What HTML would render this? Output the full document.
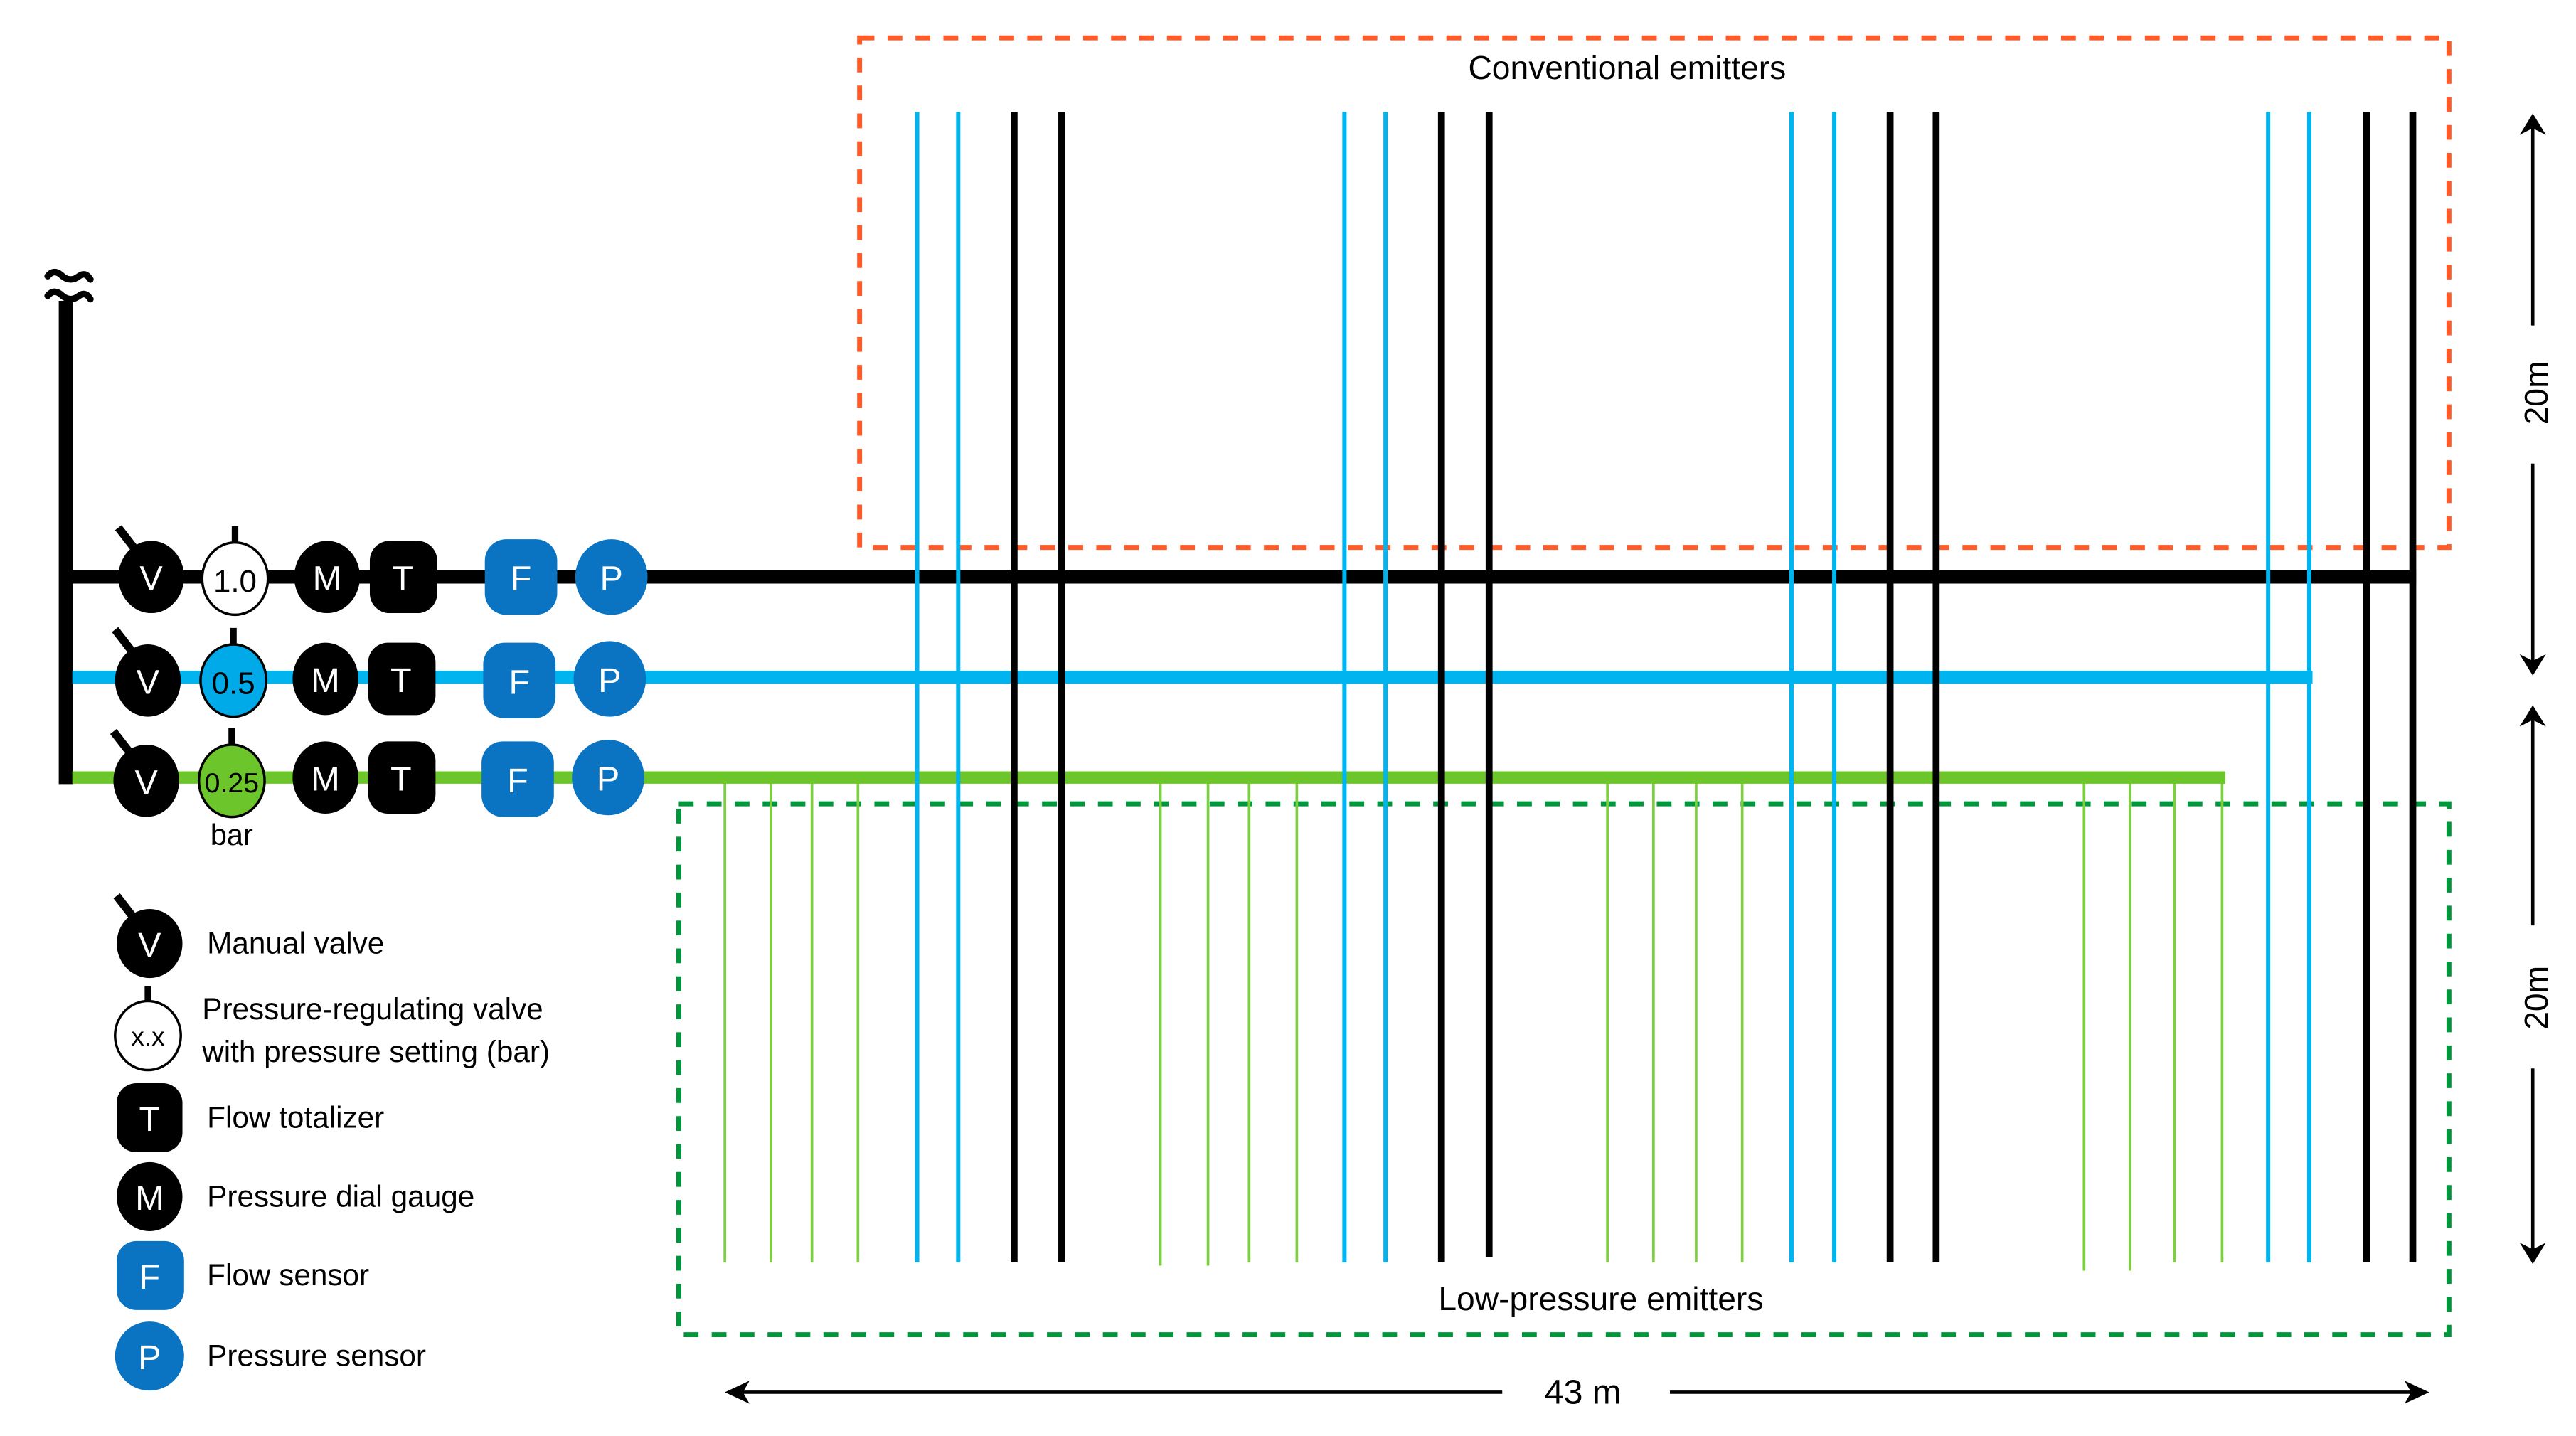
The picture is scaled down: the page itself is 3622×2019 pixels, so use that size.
<!DOCTYPE html>
<html><head><meta charset="utf-8"><style>
html,body{margin:0;padding:0;background:#fff;}
svg{display:block;}
text{font-family:"Liberation Sans",sans-serif;}
</style></head><body>
<svg width="3622" height="2019" viewBox="0 0 1567.3 873.6" xmlns="http://www.w3.org/2000/svg">
<rect x="0" y="0" width="1567.3" height="873.6" fill="#fff"/>
<!-- boxes -->
<rect x="523" y="23" width="967" height="310" fill="none" stroke="#ff5a28" stroke-width="3" stroke-dasharray="9,8"/>
<rect x="413" y="489" width="1077" height="323" fill="none" stroke="#00963c" stroke-width="3" stroke-dasharray="9,8"/>
<text x="990" y="48" font-size="20" text-anchor="middle" fill="#000">Conventional emitters</text>
<text x="974" y="797" font-size="20" text-anchor="middle" fill="#000">Low-pressure emitters</text>

<!-- green emitters -->
<g stroke="#7ccf3e" stroke-width="1.6">
<line x1="441" y1="476" x2="441" y2="768"/><line x1="469" y1="476" x2="469" y2="768"/><line x1="494" y1="476" x2="494" y2="768"/><line x1="522" y1="476" x2="522" y2="768"/>
<line x1="706" y1="476" x2="706" y2="770"/><line x1="735" y1="476" x2="735" y2="770"/><line x1="760" y1="476" x2="760" y2="768"/><line x1="789" y1="476" x2="789" y2="768"/>
<line x1="978" y1="476" x2="978" y2="768"/><line x1="1006" y1="476" x2="1006" y2="768"/><line x1="1032" y1="476" x2="1032" y2="768"/><line x1="1060" y1="476" x2="1060" y2="768"/>
<line x1="1268" y1="476" x2="1268" y2="773"/><line x1="1296" y1="476" x2="1296" y2="773"/><line x1="1323" y1="476" x2="1323" y2="768"/><line x1="1352" y1="476" x2="1352" y2="768"/>
</g>

<!-- trunk and laterals -->
<line x1="40" y1="183" x2="40" y2="477" stroke="#000" stroke-width="8.5"/>
<path d="M29 168 Q33 163 38 168 Q43 172 48 168 Q52 165 55 170" fill="none" stroke="#000" stroke-width="4" stroke-linecap="round"/>
<path d="M29 180 Q33 175 38 180 Q43 184 48 180 Q52 177 55 182" fill="none" stroke="#000" stroke-width="4" stroke-linecap="round"/>
<line x1="40" y1="351" x2="1470" y2="351" stroke="#000" stroke-width="8"/>
<line x1="44" y1="412" x2="1407" y2="412" stroke="#00b4f0" stroke-width="8"/>
<line x1="44" y1="473" x2="1354" y2="473" stroke="#6cc52b" stroke-width="7.5"/>

<!-- conventional emitters -->
<g stroke="#00b4f0" stroke-width="2.6">
<line x1="558" y1="68" x2="558" y2="768"/><line x1="583" y1="68" x2="583" y2="768"/>
<line x1="818" y1="68" x2="818" y2="768"/><line x1="843" y1="68" x2="843" y2="768"/>
<line x1="1090" y1="68" x2="1090" y2="768"/><line x1="1116" y1="68" x2="1116" y2="768"/>
<line x1="1380" y1="68" x2="1380" y2="768"/><line x1="1405" y1="68" x2="1405" y2="768"/>
</g>
<g stroke="#000" stroke-width="4.2">
<line x1="617" y1="68" x2="617" y2="768"/><line x1="646" y1="68" x2="646" y2="768"/>
<line x1="877" y1="68" x2="877" y2="768"/><line x1="906" y1="68" x2="906" y2="765"/>
<line x1="1150" y1="68" x2="1150" y2="768"/><line x1="1178" y1="68" x2="1178" y2="768"/>
<line x1="1440" y1="68" x2="1440" y2="768"/><line x1="1468" y1="68" x2="1468" y2="768"/>
</g>

<!-- rows of components -->
<g font-size="21" text-anchor="middle">
<!-- row 1 -->
<line x1="72" y1="321" x2="86" y2="339" stroke="#000" stroke-width="5"/>
<ellipse cx="92" cy="351" rx="20" ry="22" fill="#000"/><text x="92" y="359" fill="#fff">V</text>
<line x1="143" y1="320" x2="143" y2="332" stroke="#000" stroke-width="4"/>
<ellipse cx="143" cy="352" rx="20" ry="22" fill="#fff" stroke="#000" stroke-width="1.5"/><text x="143" y="360" fill="#000" font-size="19">1.0</text>
<ellipse cx="199" cy="351" rx="20" ry="22" fill="#000"/><text x="199" y="359" fill="#fff">M</text>
<rect x="225" y="329" width="41" height="44" rx="12" fill="#000"/><text x="245" y="359" fill="#fff">T</text>
<rect x="295" y="328" width="44" height="46" rx="13" fill="#0a74c2"/><text x="317" y="359" fill="#fff">F</text>
<ellipse cx="372" cy="351" rx="22" ry="23" fill="#0a74c2"/><text x="372" y="359" fill="#fff">P</text>
<!-- row 2 -->
<line x1="70" y1="383" x2="84" y2="401" stroke="#000" stroke-width="5"/>
<ellipse cx="90" cy="414" rx="20" ry="22" fill="#000"/><text x="90" y="422" fill="#fff">V</text>
<line x1="142" y1="382" x2="142" y2="394" stroke="#000" stroke-width="4"/>
<ellipse cx="142" cy="414" rx="20" ry="22" fill="#00a9e8" stroke="#000" stroke-width="1.5"/><text x="142" y="422" fill="#000" font-size="19">0.5</text>
<ellipse cx="198" cy="413" rx="20" ry="22" fill="#000"/><text x="198" y="421" fill="#fff">M</text>
<rect x="224" y="391" width="41" height="44" rx="12" fill="#000"/><text x="244" y="421" fill="#fff">T</text>
<rect x="294" y="391" width="44" height="46" rx="13" fill="#0a74c2"/><text x="316" y="422" fill="#fff">F</text>
<ellipse cx="371" cy="413" rx="22" ry="23" fill="#0a74c2"/><text x="371" y="421" fill="#fff">P</text>
<!-- row 3 -->
<line x1="69" y1="445" x2="83" y2="463" stroke="#000" stroke-width="5"/>
<ellipse cx="89" cy="475" rx="20" ry="22" fill="#000"/><text x="89" y="483" fill="#fff">V</text>
<line x1="141" y1="443" x2="141" y2="455" stroke="#000" stroke-width="4"/>
<ellipse cx="141" cy="475" rx="20" ry="22" fill="#6cc52b" stroke="#000" stroke-width="1.5"/><text x="141" y="482" fill="#000" font-size="17">0.25</text>
<ellipse cx="198" cy="473" rx="20" ry="22" fill="#000"/><text x="198" y="481" fill="#fff">M</text>
<rect x="224" y="451" width="41" height="44" rx="12" fill="#000"/><text x="244" y="481" fill="#fff">T</text>
<rect x="293" y="451" width="44" height="46" rx="13" fill="#0a74c2"/><text x="315" y="482" fill="#fff">F</text>
<ellipse cx="370" cy="473" rx="22" ry="23" fill="#0a74c2"/><text x="370" y="481" fill="#fff">P</text>
</g>
<text x="141" y="514" font-size="18" text-anchor="middle">bar</text>

<!-- legend -->
<g font-size="21" text-anchor="middle">
<line x1="71" y1="545" x2="85" y2="563" stroke="#000" stroke-width="5"/>
<ellipse cx="91" cy="574" rx="20" ry="21" fill="#000"/><text x="91" y="582" fill="#fff">V</text>
<line x1="90" y1="600" x2="90" y2="610" stroke="#000" stroke-width="4"/>
<ellipse cx="90" cy="630" rx="20" ry="21" fill="#fff" stroke="#000" stroke-width="1.5"/><text x="90" y="636" font-size="16">x.x</text>
<rect x="71" y="659" width="40" height="42" rx="12" fill="#000"/><text x="91" y="688" fill="#fff">T</text>
<ellipse cx="91" cy="728" rx="20" ry="21" fill="#000"/><text x="91" y="736" fill="#fff">M</text>
<rect x="71" y="755" width="41" height="42" rx="12" fill="#0a74c2"/><text x="91" y="784" fill="#fff">F</text>
<ellipse cx="91" cy="825" rx="21" ry="21" fill="#0a74c2"/><text x="91" y="833" fill="#fff">P</text>
</g>
<g font-size="18.3" fill="#000">
<text x="126" y="580">Manual valve</text>
<text x="123" y="620">Pressure-regulating valve</text>
<text x="123" y="646">with pressure setting (bar)</text>
<text x="126" y="686">Flow totalizer</text>
<text x="126" y="734">Pressure dial gauge</text>
<text x="126" y="782">Flow sensor</text>
<text x="126" y="831">Pressure sensor</text>
</g>

<!-- dimension 43 m -->
<g stroke="#000" stroke-width="2">
<line x1="446" y1="847" x2="914" y2="847"/>
<line x1="1016" y1="847" x2="1473" y2="847"/>
</g>
<path d="M441 847 L456 840 L452 847 L456 854 Z" fill="#000"/>
<path d="M1478 847 L1463 840 L1467 847 L1463 854 Z" fill="#000"/>
<text x="963" y="854" font-size="21" text-anchor="middle">43 m</text>

<!-- vertical dims -->
<g stroke="#000" stroke-width="2">
<line x1="1541" y1="74" x2="1541" y2="198"/>
<line x1="1541" y1="282" x2="1541" y2="406"/>
<line x1="1541" y1="434" x2="1541" y2="563"/>
<line x1="1541" y1="650" x2="1541" y2="764"/>
</g>
<path d="M1541 69 L1533 82 L1541 78 L1549 82 Z" fill="#000"/>
<path d="M1541 411 L1533 398 L1541 402 L1549 398 Z" fill="#000"/>
<path d="M1541 429 L1533 442 L1541 438 L1549 442 Z" fill="#000"/>
<path d="M1541 769 L1533 756 L1541 760 L1549 756 Z" fill="#000"/>
<text x="0" y="0" font-size="20" text-anchor="middle" transform="translate(1550,239) rotate(-90)">20m</text>
<text x="0" y="0" font-size="20" text-anchor="middle" transform="translate(1550,607) rotate(-90)">20m</text>
</svg>
</body></html>
